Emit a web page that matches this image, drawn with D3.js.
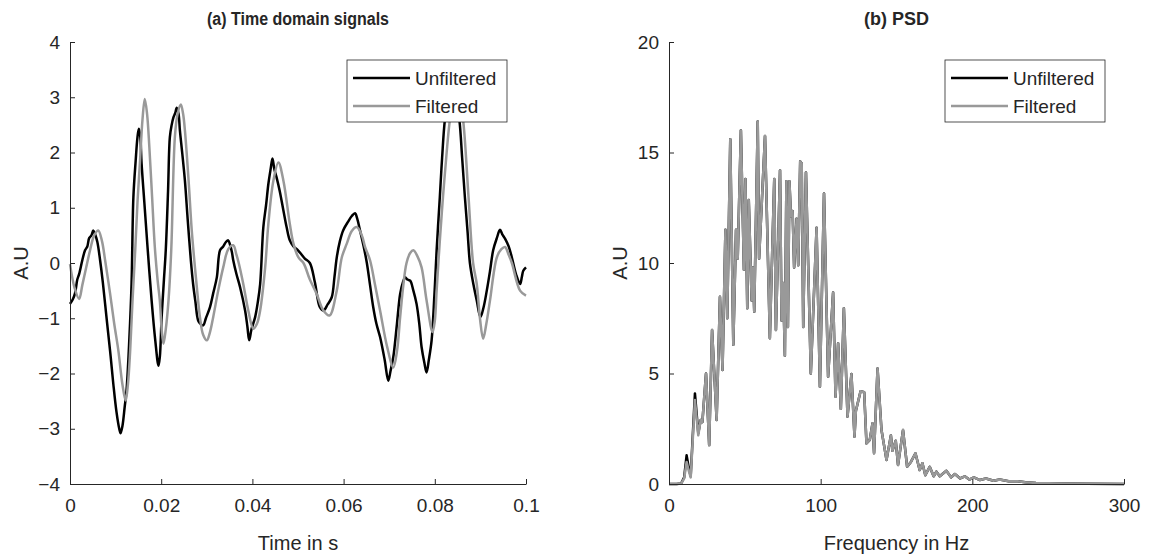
<!DOCTYPE html>
<html>
<head>
<meta charset="utf-8">
<script src="https://cdnjs.cloudflare.com/ajax/libs/d3/7.8.5/d3.min.js"></script>
<style>
  body { margin: 0; background: #fff; }
  svg text { font-family: "Liberation Sans", Arial, Helvetica, sans-serif; fill: #262626; }
</style>
</head>
<body>
<svg id="chart" width="1152" height="558"></svg>
<script>
// ---- (a) time domain, unfiltered (black) ----
var timeUnfilt = [0, 0.0006, 0.0011, 0.0016, 0.0020, 0.0027, 0.0033, 0.0038, 0.0042, 0.0047, 0.0051, 0.0055, 0.0060, 0.0066,
  0.0072, 0.0080, 0.0088, 0.0095, 0.0102, 0.0108, 0.0111, 0.0115, 0.0120, 0.0124, 0.0130, 0.0135, 0.0139, 0.0144, 0.0148,
  0.0151, 0.0154, 0.0157, 0.0163, 0.0170, 0.0179, 0.0187, 0.0194, 0.0197, 0.0201, 0.0206, 0.0210, 0.0215, 0.0219, 0.0223,
  0.0227, 0.0231, 0.0234, 0.0238, 0.0241, 0.0246, 0.0252, 0.0258, 0.0265, 0.0270, 0.0275, 0.0281, 0.0286, 0.0292, 0.0298,
  0.0307, 0.0314, 0.0322, 0.0329, 0.0336, 0.0342, 0.0347, 0.0351, 0.0355, 0.0358, 0.0365, 0.0373, 0.0384, 0.0389, 0.0393,
  0.0398, 0.0406, 0.0412, 0.0417, 0.0424, 0.0430, 0.0435, 0.0440, 0.0444, 0.0448, 0.0453, 0.0460, 0.0468, 0.0475, 0.0482,
  0.0490, 0.0500, 0.0508, 0.0515, 0.0526, 0.0537, 0.0548, 0.0556, 0.0565, 0.0574, 0.0580, 0.0585, 0.0592, 0.0599, 0.0610,
  0.0618, 0.0625, 0.0630, 0.0636, 0.0644, 0.0651, 0.0658, 0.0665, 0.0672, 0.0680, 0.0690, 0.0698, 0.0703, 0.0709, 0.0717,
  0.0724, 0.0730, 0.0735, 0.0740, 0.0746, 0.0753, 0.0760, 0.0766, 0.0771, 0.0777, 0.0782, 0.0787, 0.0793, 0.0799, 0.0804,
  0.0811, 0.0816, 0.0822, 0.0830, 0.0838, 0.0846, 0.0854, 0.0860, 0.0866, 0.0872, 0.0877, 0.0885, 0.0892, 0.0900, 0.0907,
  0.0914, 0.0921, 0.0928, 0.0936, 0.0943, 0.0948, 0.0954, 0.0962, 0.0969, 0.0978, 0.0987, 0.0991, 0.0994, 0.1000];
var valUnfilt = [-0.74, -0.66, -0.55, -0.30, -0.20, 0.05, 0.23, 0.30, 0.45, 0.50, 0.59, 0.52, 0.38, 0.05,
  -0.35, -0.98, -1.60, -2.19, -2.70, -3.00, -3.08, -2.95, -2.60, -2.30, -1.40, -0.37, 1.19, 1.85, 2.28,
  2.43, 2.30, 1.80, 1.10, 0.29, -0.68, -1.40, -1.86, -1.70, -0.98, -0.30, 0.23, 1.30, 2.28, 2.50,
  2.64, 2.72, 2.81, 2.70, 2.40, 2.00, 1.49, 0.80, 0.05, -0.38, -0.70, -1.04, -1.10, -1.13, -1.00,
  -0.80, -0.55, -0.26, 0.23, 0.30, 0.38, 0.41, 0.33, 0.20, 0.05, -0.20, -0.44, -0.86, -1.15, -1.40,
  -1.20, -0.98, -0.70, -0.38, 0.65, 1.05, 1.43, 1.70, 1.89, 1.70, 1.55, 1.30, 0.95, 0.65, 0.41,
  0.30, 0.23, 0.15, 0.08, 0.00, -0.35, -0.80, -0.86, -0.75, -0.62, -0.25, 0.10, 0.40, 0.59, 0.75,
  0.85, 0.90, 0.80, 0.59, 0.30, 0.00, -0.40, -0.80, -1.10, -1.34, -1.75, -2.13, -1.95, -1.70, -1.10,
  -0.56, -0.35, -0.26, -0.30, -0.32, -0.50, -0.74, -1.10, -1.52, -1.80, -1.98, -1.75, -1.40, -0.60, 0.23,
  1.19, 1.90, 2.58, 3.00, 3.15, 3.00, 2.58, 1.90, 1.19, 0.55, 0.00, -0.40, -0.68, -0.98, -0.80,
  -0.50, -0.15, 0.23, 0.45, 0.60, 0.52, 0.44, 0.30, 0.10, -0.20, -0.38, -0.25, -0.14, -0.08];

// ---- (a) time domain, filtered (grey) ----
var timeFilt = [0, 0.0010, 0.0020, 0.0027, 0.0035, 0.0044, 0.0053, 0.0062, 0.0070, 0.0077, 0.0088, 0.0097, 0.0106, 0.0115,
  0.0122, 0.0127, 0.0132, 0.0137, 0.0143, 0.0148, 0.0154, 0.0159, 0.0164, 0.0169, 0.0174, 0.0180, 0.0186, 0.0192, 0.0197,
  0.0201, 0.0205, 0.0210, 0.0216, 0.0222, 0.0230, 0.0236, 0.0243, 0.0248, 0.0252, 0.0260, 0.0267, 0.0274, 0.0280, 0.0285,
  0.0292, 0.0300, 0.0307, 0.0314, 0.0325, 0.0336, 0.0347, 0.0358, 0.0365, 0.0370, 0.0380, 0.0391, 0.0402, 0.0410, 0.0417,
  0.0428, 0.0435, 0.0446, 0.0457, 0.0468, 0.0482, 0.0490, 0.0501, 0.0512, 0.0526, 0.0541, 0.0555, 0.0569, 0.0585, 0.0596,
  0.0607, 0.0618, 0.0629, 0.0640, 0.0647, 0.0658, 0.0669, 0.0680, 0.0695, 0.0709, 0.0717, 0.0724, 0.0731, 0.0738, 0.0746,
  0.0753, 0.0762, 0.0771, 0.0782, 0.0795, 0.0800, 0.0804, 0.0811, 0.0818, 0.0826, 0.0832, 0.0840, 0.0847, 0.0855, 0.0863,
  0.0874, 0.0884, 0.0892, 0.0899, 0.0906, 0.0913, 0.0921, 0.0936, 0.0946, 0.0954, 0.0962, 0.0969, 0.0987, 0.1000];
var valFilt = [-0.02, -0.45, -0.65, -0.40, -0.10, 0.23, 0.50, 0.59, 0.40, 0.05, -0.56, -1.10, -1.58, -2.20,
  -2.49, -2.20, -1.58, -0.70, 0.23, 1.10, 1.91, 2.60, 2.97, 2.70, 2.10, 1.20, 0.29, -0.30, -0.68,
  -1.20, -1.46, -1.20, -0.68, 0.23, 2.28, 2.70, 2.87, 2.70, 2.40, 1.50, 0.59, -0.08, -0.60, -0.98,
  -1.30, -1.40, -1.25, -0.98, -0.50, -0.08, 0.25, 0.32, 0.15, 0.00, -0.38, -0.86, -1.19, -1.10, -0.86,
  -0.08, 0.71, 1.49, 1.82, 1.49, 0.71, 0.35, 0.10, 0.00, -0.30, -0.56, -0.85, -0.95, -0.50, 0.10,
  0.35, 0.58, 0.65, 0.50, 0.29, 0.05, -0.40, -0.86, -1.50, -1.89, -1.60, -0.98, -0.40, 0.00, 0.18,
  0.23, 0.12, -0.08, -0.68, -1.25, -1.05, -0.50, 0.40, 1.20, 2.00, 2.52, 3.00, 3.15, 3.00, 2.52,
  1.19, 0.00, -0.38, -1.00, -1.37, -1.10, -0.68, 0.10, 0.25, 0.29, 0.15, 0.00, -0.50, -0.59];

// ---- (b) PSD ----
var psdFreq = [0, 5, 8, 10, 11.6, 13, 14.3, 17.1, 19.3, 20.9, 22, 24.4, 26.5, 28.4, 31.4, 33.6, 35.3, 37.2, 38.4, 40.4,
  42.4, 44.2, 45.3, 47.4, 49.4, 50.4, 51.6, 52.6, 54.5, 55.3, 56.2, 58.5, 59.4, 63.3, 66.5, 67.6, 69.4, 70.5, 73.2, 74.2,
  75.2, 76.4, 77.4, 78.4, 79.4, 80.4, 81.5, 82.5, 84.1, 85.2, 86.5, 87.5, 88.5, 90.3, 93.5, 97.3, 99.5, 102.2, 104.9, 108.2,
  109.8, 111.5, 113.3, 115.3, 117.7, 120.3, 122.3, 123.2, 126.3, 128.7, 130.2, 132.4, 134.2, 135.2, 137.5, 140.1, 143.4, 146.3, 147.3, 149.5,
  151, 154.3, 157, 159.5, 162.5, 165.3, 167.1, 169, 171.9, 174.5, 176.3, 178.5, 182.9, 186, 188.5, 192, 195, 198, 201, 205,
  209, 214, 218, 224, 230, 235, 242, 250, 260, 275, 300];
var psdFilt = [0, 0, 0.02, 0.25, 1.0, 0.6, 0.3, 3.8, 2.2, 2.9, 2.8, 5.0, 1.76, 6.97, 2.9, 8.47, 5.16, 11.5, 7.5, 15.6,
  6.3, 11.5, 10.2, 16.0, 9.7, 13.8, 7.95, 12.85, 8.3, 9.8, 7.8, 16.4, 10.2, 15.75, 6.6, 9.4, 13.8, 6.97, 14.2, 7.4,
  9.1, 5.8, 13.7, 7.1, 13.7, 12.1, 12.35, 9.8, 12.0, 9.9, 14.6, 14.5, 7.1, 14.1, 5.0, 11.6, 4.4, 13.15, 4.85, 8.66,
  3.95, 6.37, 3.4, 7.95, 3.05, 4.98, 2.14, 3.3, 4.2, 4.15, 1.84, 2.0, 2.75, 1.39, 5.23, 2.44, 1.09, 2.2, 1.5, 1.96,
  0.86, 2.44, 0.78, 1.0, 1.39, 0.63, 0.94, 0.4, 0.78, 0.35, 0.56, 0.35, 0.6, 0.3, 0.45, 0.25, 0.35, 0.2, 0.3, 0.18,
  0.25, 0.15, 0.2, 0.12, 0.12, 0.08, 0.05, 0.03, 0.02, 0.01, 0];
// unfiltered PSD differs only at the lowest frequencies
var psdUnfiltLow = [0, 0, 0.02, 0.3, 1.3, 0.75, 0.35, 4.1, 2.3];

var seriesNames = ["Unfiltered", "Filtered"];
var seriesColors = ["#000000", "#999999"];

var svg = d3.select("#chart");
var plotTop = 42, plotBottom = 484;

function zip(xs, ys) {
  return xs.map(function(x, i) { return [x, ys[i]]; });
}

function drawPanel(p) {
  var x = d3.scaleLinear().domain(p.xDomain).range([p.left, p.right]);
  var y = d3.scaleLinear().domain(p.yDomain).range([plotBottom, plotTop]);
  var g = svg.append("g");

  var line = d3.line()
    .x(function(d) { return x(d[0]); })
    .y(function(d) { return y(d[1]); })
    .curve(p.curve);

  p.series.forEach(function(s, i) {
    g.append("path")
      .datum(s)
      .attr("fill", "none")
      .attr("stroke", seriesColors[i])
      .attr("stroke-width", 2.5)
      .attr("stroke-linejoin", "round")
      .attr("d", line);
  });

  var xAxis = d3.axisBottom(x).tickValues(p.xTicks).tickSizeInner(-5).tickSizeOuter(0).tickPadding(15)
    .tickFormat(p.xFormat);
  var yAxis = d3.axisLeft(y).tickValues(p.yTicks).tickSizeInner(-5).tickSizeOuter(0).tickPadding(10);

  var gx = g.append("g").attr("transform", "translate(0," + plotBottom + ")").call(xAxis);
  var gy = g.append("g").attr("transform", "translate(" + p.left + ",0)").call(yAxis);
  [gx, gy].forEach(function(a) {
    a.selectAll("path, line").attr("stroke", "#262626").attr("stroke-width", 1);
    a.selectAll("text").style("font-size", "19px").attr("fill", "#262626")
      .style("font-family", "'Liberation Sans', Arial, sans-serif");
  });

  // title
  var t = g.append("text")
    .attr("x", (p.left + p.right) / 2).attr("y", 25)
    .attr("text-anchor", "middle")
    .style("font-size", "18px").style("font-weight", "bold").attr("fill", "#000")
    .text(p.title);
  if (p.titleWidth) t.attr("textLength", p.titleWidth).attr("lengthAdjust", "spacingAndGlyphs");

  // axis labels
  g.append("text")
    .attr("x", (p.left + p.right) / 2).attr("y", 550)
    .attr("text-anchor", "middle")
    .style("font-size", "20px")
    .text(p.xLabel);
  g.append("text")
    .attr("transform", "translate(" + (p.left - 42) + "," + ((plotTop + plotBottom) / 2) + ") rotate(-90)")
    .attr("text-anchor", "middle")
    .style("font-size", "20px")
    .text("A.U");

  // legend
  var lx = p.right - 179, ly = 60;
  var lg = g.append("g").attr("transform", "translate(" + lx + "," + ly + ")");
  lg.append("rect").attr("width", 160).attr("height", 62)
    .attr("fill", "#fff").attr("stroke", "#262626").attr("stroke-width", 0.8);
  seriesNames.forEach(function(name, i) {
    var yy = 18 + i * 28;
    lg.append("line").attr("x1", 6).attr("x2", 63).attr("y1", yy).attr("y2", yy)
      .attr("stroke", seriesColors[i]).attr("stroke-width", 2.5);
    lg.append("text").attr("x", 68).attr("y", yy + 7)
      .style("font-size", "19px").attr("fill", "#000").text(name);
  });
}

var psdUnfilt = psdUnfiltLow.concat(psdFilt.slice(psdUnfiltLow.length));

drawPanel({
  left: 70, right: 526,
  xDomain: [0, 0.1], yDomain: [-4, 4],
  xTicks: [0, 0.02, 0.04, 0.06, 0.08, 0.1], yTicks: [-4, -3, -2, -1, 0, 1, 2, 3, 4],
  xFormat: function(d) { return d === 0 ? "0" : String(+d.toFixed(2)); },
  curve: d3.curveCatmullRom,
  series: [zip(timeUnfilt, valUnfilt), zip(timeFilt, valFilt)],
  title: "(a) Time domain signals", titleWidth: 182, xLabel: "Time in s"
});

drawPanel({
  left: 669, right: 1124,
  xDomain: [0, 300], yDomain: [0, 20],
  xTicks: [0, 100, 200, 300], yTicks: [0, 5, 10, 15, 20],
  xFormat: d3.format("d"),
  curve: d3.curveLinear,
  series: [zip(psdFreq, psdUnfilt), zip(psdFreq, psdFilt)],
  title: "(b) PSD", xLabel: "Frequency in Hz"
});
</script>
</body>
</html>
